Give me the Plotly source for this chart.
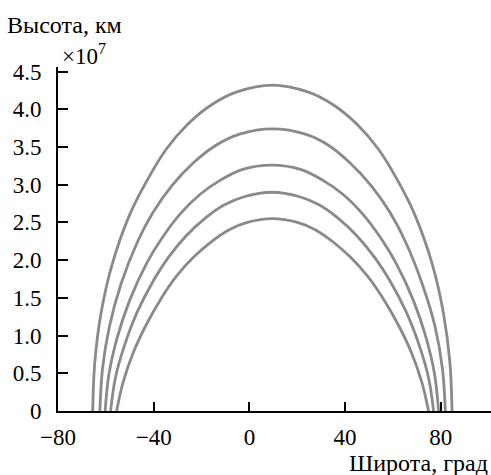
import plotly.graph_objects as go

# Heights of the five field lines above the surface, in units of 1e7 km,
# against latitude in degrees (left foot -> apex -> right foot).
lat_1 = [-65.5, -64.6, -62.0, -57.4, -50.2, -43.4, -35.0, -25.8, -15.8, -5.2, 9.6,
         24.4, 35.0, 45.0, 54.2, 62.6, 69.3, 76.5, 81.1, 83.8, 84.7]
h_1 = [0, 0.65, 1.30, 1.94, 2.59, 3.02, 3.46, 3.80, 4.06, 4.23, 4.32,
       4.23, 4.06, 3.80, 3.46, 3.02, 2.59, 1.94, 1.30, 0.65, 0]

lat_2 = [-62.5, -61.4, -58.5, -53.7, -46.8, -40.5, -32.3, -23.4, -14.1, -4.1, 9.7,
         23.4, 33.2, 42.0, 50.8, 59.0, 65.3, 72.3, 77.6, 80.7, 81.9]
h_2 = [0, 0.56, 1.12, 1.68, 2.24, 2.62, 2.99, 3.29, 3.52, 3.67, 3.74,
       3.67, 3.52, 3.29, 2.99, 2.62, 2.24, 1.68, 1.12, 0.56, 0]

lat_3 = [-60.3, -58.7, -55.2, -50.0, -42.9, -36.8, -29.0, -20.7, -12.1, -3.1, 9.4,
         21.7, 30.6, 39.2, 47.4, 55.2, 61.3, 68.5, 73.8, 77.4, 79.1]
h_3 = [0, 0.49, 0.98, 1.47, 1.96, 2.28, 2.61, 2.87, 3.06, 3.20, 3.26,
       3.20, 3.06, 2.87, 2.61, 2.28, 1.96, 1.47, 0.98, 0.49, 0]

lat_4 = [-58.0, -56.0, -52.2, -46.9, -39.9, -34.0, -26.5, -18.7, -10.6, -2.2, 9.5,
         21.0, 29.3, 37.3, 45.0, 52.5, 58.5, 65.6, 71.0, 74.9, 77.0]
h_4 = [0, 0.44, 0.87, 1.31, 1.74, 2.03, 2.32, 2.55, 2.73, 2.84, 2.90,
       2.84, 2.73, 2.55, 2.32, 2.03, 1.74, 1.31, 0.87, 0.44, 0]

lat_5 = [-55.5, -52.8, -48.6, -43.0, -36.1, -30.4, -23.3, -16.1, -8.6, -0.9, 9.7,
         20.1, 27.7, 35.0, 42.2, 49.3, 55.1, 62.1, 67.8, 72.1, 74.9]
h_5 = [0, 0.38, 0.77, 1.15, 1.53, 1.79, 2.04, 2.24, 2.40, 2.50, 2.55,
       2.50, 2.40, 2.24, 2.04, 1.79, 1.53, 1.15, 0.77, 0.38, 0]

x_ticks = [-80, -40, 0, 40, 80]
x_tick_text = ["\u221280", "\u221240", "0", "40", "80"]
y_ticks = [0, 0.5, 1.0, 1.5, 2.0, 2.5, 3.0, 3.5, 4.0, 4.5]
y_tick_text = ["0", "0.5", "1.0", "1.5", "2.0", "2.5", "3.0", "3.5", "4.0", "4.5"]

FONT = "Liberation Serif"
LINE_COLOR = "#8a8a8a"

fig = go.Figure()
for lat, h in [(lat_1, h_1), (lat_2, h_2), (lat_3, h_3), (lat_4, h_4), (lat_5, h_5)]:
    fig.add_trace(go.Scatter(
        x=lat, y=h, mode="lines",
        line=dict(color=LINE_COLOR, width=2.8, shape="spline", smoothing=1.0),
        showlegend=False, hoverinfo="skip",
    ))

fig.update_layout(
    width=491, height=475,
    margin=dict(l=58, r=0, t=67, b=64),
    paper_bgcolor="white", plot_bgcolor="white",
    font=dict(family=FONT, size=22, color="black"),
    xaxis=dict(
        range=[-80, 101], tickvals=x_ticks, ticktext=x_tick_text,
        showgrid=False, zeroline=False, showline=True, linecolor="black", linewidth=2,
        ticks="inside", ticklen=9, tickwidth=2, tickcolor="black",
        ticklabelstandoff=4,
        tickfont=dict(family=FONT, size=23, color="black"),
    ),
    yaxis=dict(
        range=[0, 4.56], tickvals=y_ticks, ticktext=y_tick_text,
        showgrid=False, zeroline=False, showline=True, linecolor="black", linewidth=2,
        ticks="inside", ticklen=10, tickwidth=2, tickcolor="black",
        ticklabelstandoff=10,
        tickfont=dict(family=FONT, size=23, color="black"),
    ),
    annotations=[
        dict(text="Высота, км", xref="paper", yref="paper", x=-0.122, y=1.122,
             xanchor="left", yanchor="middle", showarrow=False,
             font=dict(family=FONT, size=24, color="black")),
        dict(text="\u00d710<sup>7</sup>", xref="paper", yref="paper", x=0.005, y=1.035,
             xanchor="left", yanchor="middle", showarrow=False,
             font=dict(family=FONT, size=23, color="black")),
        dict(text="Широта, град", xref="paper", yref="paper", x=0.997, y=-0.150,
             xanchor="right", yanchor="middle", showarrow=False,
             font=dict(family=FONT, size=24, color="black")),
    ],
)

fig.write_html("out.html")
